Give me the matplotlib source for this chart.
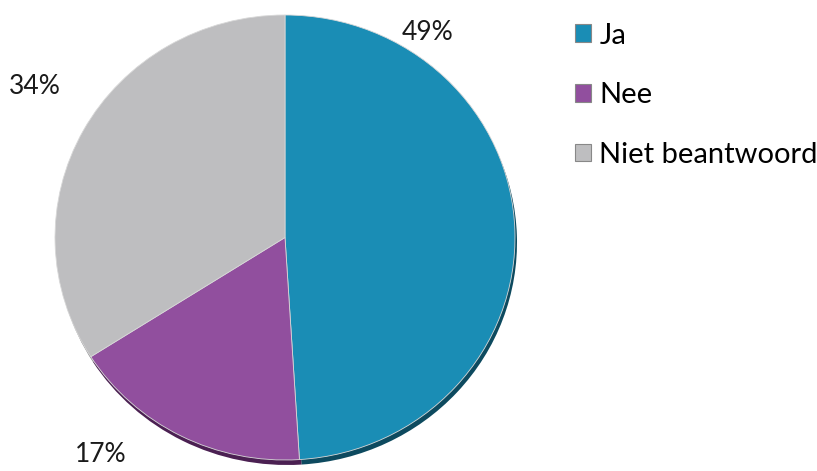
import matplotlib
matplotlib.use('Agg')
import matplotlib.pyplot as plt

labels = ['Ja', 'Nee', 'Niet beantwoord']
values = [49, 17, 34]
pct_labels = ['49%', '17%', '34%']
colors = ['#1a8db5', '#914f9e', '#bebec0']
shadow_colors = ['#0d4a5f', '#4b2052', '#8a8a8c']

W, H = 817, 471
RX, RY = 230.0, 222.5   # pie radius in px (slightly squashed)

fig = plt.figure(figsize=(W / 100, H / 100), dpi=100)
ax = fig.add_axes([0, 0, 1, 1])

cx, cy = 285 / RX, (H - 237.5) / RY

# shadow underneath (darker copy, pushed a bit down/right)
ax.pie(values, colors=shadow_colors, startangle=90, counterclock=False,
       center=(cx + 2 / RX, cy - 5 / RY), radius=1, frame=True,
       wedgeprops=dict(linewidth=0))
wedges, _ = ax.pie(values, colors=colors, startangle=90, counterclock=False,
                   center=(cx, cy), radius=1, frame=True,
                   wedgeprops=dict(linewidth=0.6, edgecolor='#d8d8d8'))
ax.set_aspect('auto')
ax.set_xlim(0, W / RX)
ax.set_ylim(0, H / RY)
ax.axis('off')

# percentage labels, placed like the original (outside the pie)
label_pos = [(428, 33), (101, 455), (35, 86)]
for txt, (px, py) in zip(pct_labels, label_pos):
    fig.text(px / W, 1 - py / H, txt, ha='center', va='center',
             fontsize=19, family='Lato', color='#1a1a1a')

leg = fig.legend(wedges, labels, loc='upper left',
                 bbox_to_anchor=(560 / W, 1 - 8 / H),
                 frameon=False, handlelength=0.55, handleheight=0.55,
                 handletextpad=0.3, labelspacing=1.15, borderpad=0,
                 prop=dict(family='Lato', size=21))
for h in leg.legend_handles:
    h.set_edgecolor('#888888')
    h.set_linewidth(0.8)

fig.savefig('out.png', dpi=100)
